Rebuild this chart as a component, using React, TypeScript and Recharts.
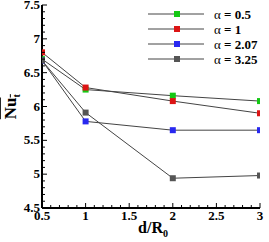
import { LineChart, Line, XAxis, YAxis } from 'recharts'

const distances = [0.5, 1, 2, 3]
const alpha05 = [6.7, 6.25, 6.16, 6.08]
const alpha1 = [6.8, 6.28, 6.08, 5.9]
const alpha207 = [6.68, 5.78, 5.65, 5.65]
const alpha325 = [6.68, 5.91, 4.94, 4.98]
const xTickLabels = [0.5, 1, 1.5, 2, 2.5, 3]
const yTickLabels = [4.5, 5, 5.5, 6, 6.5, 7, 7.5]

const seriesList = [
  { key: 'a05', label: '0.5', color: '#14c814', values: alpha05 },
  { key: 'a1', label: '1', color: '#dc1414', values: alpha1 },
  { key: 'a207', label: '2.07', color: '#2828f0', values: alpha207 },
  { key: 'a325', label: '3.25', color: '#555555', values: alpha325 }
]

const data = distances.map((d, i) => {
  const row: Record<string, number> = { d }
  seriesList.forEach((s) => {
    row[s.key] = s.values[i]
  })
  return row
})

// minor ticks every 0.1 between the labelled ones
const withMinors = (labels: number[]) => {
  const out: number[] = []
  const first = labels[0]
  const last = labels[labels.length - 1]
  const n = Math.round((last - first) / 0.1)
  for (let i = 0; i <= n; i++) out.push(Number((first + i * 0.1).toFixed(1)))
  return out
}
const isMajor = (v: number, labels: number[]) => labels.some((l) => Math.abs(l - v) < 1e-6)

const font = '"Liberation Serif", "Times New Roman", serif'

const YTick = ({ x, y, payload }: any) => {
  const major = isMajor(payload.value, yTickLabels)
  return (
    <g>
      <line x1={x} x2={x + (major ? 5 : 3)} y1={y} y2={y} stroke="#000" strokeWidth={1} />
      {major && (
        <text x={x - 2} y={y + 4} textAnchor="end" fontSize={13} fontWeight="bold" fontFamily={font} fill="#000">
          {payload.value}
        </text>
      )}
    </g>
  )
}

const XTick = ({ x, y, payload }: any) => {
  const major = isMajor(payload.value, xTickLabels)
  return (
    <g>
      <line x1={x} x2={x} y1={y} y2={y - (major ? 5 : 3)} stroke="#000" strokeWidth={1} />
      {major && (
        <text x={x} y={y + 12} textAnchor="middle" fontSize={13} fontWeight="bold" fontFamily={font} fill="#000">
          {payload.value}
        </text>
      )}
    </g>
  )
}

const SquareDot = ({ cx, cy, fill }: any) => {
  if (cx == null || cy == null) return null
  return <rect x={cx - 3} y={cy - 3} width={6} height={6} fill={fill} />
}

const LegendBox = () => (
  <svg width={115} height={62} style={{ position: 'absolute', left: 148, top: 6 }}>
    {seriesList.map((s, i) => {
      const y = 8 + i * 15
      return (
        <g key={s.key}>
          <line x1={0} x2={56} y1={y} y2={y} stroke="#444" strokeWidth={1} />
          <rect x={26} y={y - 3} width={6} height={6} fill={s.color} />
          <text x={66} y={y + 4.5} fontSize={13} fontFamily={font} fill="#000">
            <tspan>α</tspan>
            <tspan fontWeight="bold"> = {s.label}</tspan>
          </text>
        </g>
      )
    })}
  </svg>
)

export default function App() {
  return (
    <div style={{ position: 'absolute', left: 0, top: 0, width: 269, height: 242 }}>
      <LineChart width={269} height={242} data={data} margin={{ top: 5, right: 9, bottom: 0, left: 0 }}>
        <XAxis
          dataKey="d"
          type="number"
          domain={[0.5, 3]}
          ticks={withMinors(xTickLabels)}
          interval={0}
          tickSize={0}
          tickMargin={0}
          height={34}
          axisLine={{ stroke: '#000', strokeWidth: 2 }}
          tick={<XTick />}
          allowDataOverflow
        />
        <XAxis xAxisId="top" orientation="top" dataKey="d" type="number" domain={[0.5, 3]} height={0} tick={false} tickLine={false} axisLine={{ stroke: '#555', strokeWidth: 1.5 }} />
        <YAxis
          type="number"
          domain={[4.5, 7.5]}
          ticks={withMinors(yTickLabels)}
          interval={0}
          tickSize={0}
          tickMargin={0}
          width={42}
          axisLine={{ stroke: '#000', strokeWidth: 2 }}
          tick={<YTick />}
          allowDataOverflow
        />
        <YAxis yAxisId="right" orientation="right" type="number" domain={[4.5, 7.5]} width={0} tick={false} tickLine={false} axisLine={{ stroke: '#555', strokeWidth: 1.5 }} />
        {seriesList.map((s) => (
          <Line
            key={s.key}
            dataKey={s.key}
            stroke="#444"
            strokeWidth={1}
            dot={<SquareDot fill={s.color} />}
            activeDot={false}
            isAnimationActive={false}
          />
        ))}
      </LineChart>
      <LegendBox />
      <div
        style={{
          position: 'absolute',
          left: 1,
          top: 86,
          width: 22,
          height: 42,
          display: 'flex',
          alignItems: 'center',
          justifyContent: 'center'
        }}
      >
        <div
          style={{
            transform: 'rotate(-90deg)',
            fontFamily: font,
            fontWeight: 'bold',
            fontSize: 17,
            whiteSpace: 'nowrap'
          }}
        >
          <span style={{ textDecoration: 'overline' }}>
            Nu<sub style={{ fontSize: 10 }}>t</sub>
          </span>
        </div>
      </div>
      <div
        style={{
          position: 'absolute',
          left: 128,
          top: 219,
          width: 50,
          textAlign: 'center',
          fontFamily: font,
          fontWeight: 'bold',
          fontSize: 16,
          whiteSpace: 'nowrap'
        }}
      >
        d/R<sub style={{ fontSize: 10 }}>0</sub>
      </div>
    </div>
  )
}
